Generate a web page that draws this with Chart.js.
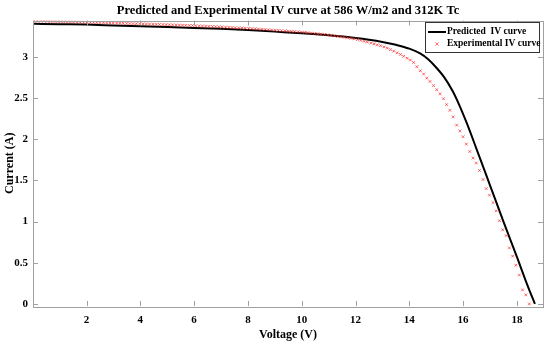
<!DOCTYPE html>
<html lang="en">
<head>
    <meta charset="UTF-8">
    <title>Predicted and Experimental IV curve</title>
    <script src="https://cdn.jsdelivr.net/npm/chart.js@4.4.1/dist/chart.umd.min.js"></script>
    <style>
        body {
            margin: 0;
            background-color: white;
        }
    </style>
</head>
<body>
    <canvas id="ivChart" width="550" height="342"></canvas>

    <script>
// Tick values
const voltageTicks = [2, 4, 6, 8, 10, 12, 14, 16, 18];
const currentTicks = [0, 0.5, 1, 1.5, 2, 2.5, 3];

// Predicted IV curve (solid black line)
const predVoltage = [0.05, 1, 2, 3, 4, 5, 6, 7, 8, 9, 10, 11, 12, 12.5, 13, 13.5, 14, 14.4, 14.7, 15.0, 15.3, 15.6, 15.85, 16.13, 16.5, 17.0, 17.5, 18.0, 18.4, 18.67];
const predCurrent = [3.40, 3.395, 3.39, 3.38, 3.37, 3.36, 3.35, 3.34, 3.325, 3.305, 3.285, 3.26, 3.228, 3.207, 3.18, 3.145, 3.098, 3.04, 2.97, 2.87, 2.75, 2.59, 2.42, 2.20, 1.88, 1.44, 1.0, 0.57, 0.22, 0.0];

// Experimental IV curve (red crosses)
const expVoltage = [
    0.05, 0.17, 0.30, 0.42, 0.54, 0.66, 0.79, 0.91, 1.03, 1.15,
    1.28, 1.40, 1.52, 1.65, 1.77, 1.89, 2.01, 2.14, 2.26, 2.38,
    2.50, 2.63, 2.75, 2.87, 2.99, 3.12, 3.24, 3.36, 3.49, 3.61,
    3.73, 3.85, 3.98, 4.10, 4.22, 4.34, 4.47, 4.59, 4.71, 4.84,
    4.96, 5.08, 5.20, 5.33, 5.45, 5.57, 5.69, 5.82, 5.94, 6.06,
    6.19, 6.31, 6.43, 6.55, 6.68, 6.80, 6.92, 7.04, 7.17, 7.29,
    7.41, 7.53, 7.66, 7.78, 7.90, 8.03, 8.15, 8.27, 8.39, 8.52,
    8.64, 8.76, 8.88, 9.01, 9.13, 9.25, 9.38, 9.50, 9.62, 9.74,
    9.87, 9.99, 10.11, 10.23, 10.36, 10.48, 10.60, 10.72, 10.85, 10.97,
    11.09, 11.22, 11.34, 11.46, 11.58, 11.71, 11.83, 11.95, 12.07, 12.20,
    12.32, 12.44, 12.57, 12.69, 12.81, 12.93, 13.06, 13.18, 13.30, 13.42,
    13.55, 13.67, 13.79, 13.92, 14.04, 14.16, 14.28, 14.41, 14.53, 14.65,
    14.77, 14.90, 15.02, 15.14, 15.27, 15.39, 15.51, 15.63, 15.76, 15.88,
    16.00, 16.12, 16.25, 16.37, 16.49, 16.61, 16.74, 16.86, 16.98, 17.11,
    17.23, 17.35, 17.47, 17.60, 17.72, 17.84, 17.96, 18.09, 18.21, 18.33,
    18.46
];
const expCurrent = [
    3.435, 3.434, 3.432, 3.431, 3.430, 3.429, 3.428, 3.427, 3.426, 3.425,
    3.424, 3.423, 3.422, 3.421, 3.420, 3.418, 3.417, 3.416, 3.415, 3.414,
    3.413, 3.412, 3.411, 3.410, 3.409, 3.408, 3.407, 3.406, 3.404, 3.403,
    3.402, 3.401, 3.400, 3.399, 3.398, 3.396, 3.395, 3.393, 3.392, 3.391,
    3.389, 3.388, 3.387, 3.385, 3.384, 3.383, 3.381, 3.380, 3.379, 3.377,
    3.375, 3.373, 3.371, 3.369, 3.367, 3.365, 3.363, 3.361, 3.359, 3.357,
    3.355, 3.353, 3.351, 3.349, 3.347, 3.344, 3.342, 3.339, 3.336, 3.333,
    3.331, 3.328, 3.325, 3.322, 3.320, 3.317, 3.314, 3.311, 3.308, 3.306,
    3.303, 3.300, 3.296, 3.292, 3.287, 3.283, 3.279, 3.275, 3.270, 3.266,
    3.261, 3.254, 3.248, 3.242, 3.236, 3.230, 3.223, 3.217, 3.209, 3.198,
    3.188, 3.178, 3.166, 3.156, 3.145, 3.134, 3.120, 3.104, 3.087, 3.068,
    3.048, 3.028, 3.005, 2.982, 2.960, 2.930, 2.880, 2.830, 2.790, 2.740,
    2.700, 2.650, 2.600, 2.550, 2.490, 2.420, 2.350, 2.270, 2.170, 2.100,
    2.030, 1.940, 1.850, 1.770, 1.710, 1.620, 1.510, 1.400, 1.320, 1.230,
    1.130, 1.010, 0.900, 0.830, 0.680, 0.580, 0.470, 0.350, 0.170, 0.110,
    0.000
];

const serif = '"Liberation Serif", "Times New Roman", serif';
const axisGrey = '#a0a0a0';

// box around the axes + inward tick marks, MATLAB style
const axesBox = {
    id: 'axesBox',
    afterDatasetsDraw(chart) {
        const { ctx, chartArea: { left, right, top, bottom }, scales: { x, y } } = chart;
        ctx.save();
        ctx.strokeStyle = axisGrey;
        ctx.lineWidth = 1;
        ctx.strokeRect(Math.round(left) + 0.5, Math.round(top) + 0.5,
            Math.round(right - left), Math.round(bottom - top));
        ctx.beginPath();
        voltageTicks.forEach(v => {
            const px = Math.round(x.getPixelForValue(v)) + 0.5;
            ctx.moveTo(px, bottom); ctx.lineTo(px, bottom - 5);
            ctx.moveTo(px, top); ctx.lineTo(px, top + 5);
        });
        currentTicks.forEach(v => {
            const py = Math.round(y.getPixelForValue(v)) + 0.5;
            ctx.moveTo(left, py); ctx.lineTo(left + 5, py);
            ctx.moveTo(right, py); ctx.lineTo(right - 5, py);
        });
        ctx.stroke();
        ctx.restore();
    }
};

// legend box in the top right corner
const boxLegend = {
    id: 'boxLegend',
    afterDraw(chart) {
        const { ctx, chartArea: { right, top } } = chart;
        const ds = chart.data.datasets;
        const bx = right - 118, by = top + 1.5, bw = 114, bh = 30;
        ctx.save();
        ctx.fillStyle = 'white';
        ctx.fillRect(bx, by, bw, bh);
        ctx.strokeStyle = '#333';
        ctx.lineWidth = 1;
        ctx.strokeRect(Math.round(bx) + 0.5, Math.round(by) + 0.5, bw, bh);

        ctx.font = 'bold 9.5px ' + serif;
        ctx.fillStyle = 'black';
        ctx.textBaseline = 'middle';

        // predicted: line sample
        const r1 = by + 10, r2 = by + 22;
        ctx.strokeStyle = ds[0].borderColor;
        ctx.lineWidth = 2;
        ctx.beginPath();
        ctx.moveTo(bx + 3, r1); ctx.lineTo(bx + 21, r1);
        ctx.stroke();
        ctx.fillText(ds[0].label, bx + 22, r1);

        // experimental: cross marker
        const cx = bx + 12, s = 1.6;
        ctx.strokeStyle = ds[1].borderColor;
        ctx.lineWidth = 1;
        ctx.beginPath();
        ctx.moveTo(cx - s, r2 - s); ctx.lineTo(cx + s, r2 + s);
        ctx.moveTo(cx - s, r2 + s); ctx.lineTo(cx + s, r2 - s);
        ctx.stroke();
        ctx.fillText(ds[1].label, bx + 22, r2);
        ctx.restore();
    }
};

new Chart(document.getElementById('ivChart'), {
    type: 'scatter',
    data: {
        datasets: [{
            label: 'Predicted  IV curve',
            data: predVoltage.map((v, i) => ({ x: v, y: predCurrent[i] })),
            showLine: true,
            borderColor: 'black',
            borderWidth: 2,
            pointRadius: 0,
            cubicInterpolationMode: 'monotone',
            order: 2
        }, {
            label: 'Experimental IV curve',
            data: expVoltage.map((v, i) => ({ x: v, y: expCurrent[i] })),
            showLine: false,
            pointStyle: 'crossRot',
            pointRadius: 1.9,
            borderColor: 'rgba(255, 40, 40, 0.7)',
            backgroundColor: 'rgba(255, 40, 40, 0.7)',
            borderWidth: 1,
            order: 1
        }]
    },
    options: {
        responsive: false,
        animation: false,
        devicePixelRatio: 1,
        layout: { padding: { left: 0, right: 7, top: 0, bottom: 0 } },
        plugins: {
            legend: { display: false },
            tooltip: { enabled: false },
            title: {
                display: true,
                fullSize: false,
                text: 'Predicted and Experimental IV curve at 586 W/m2 and 312K Tc',
                color: 'black',
                font: { family: serif, size: 12.5, weight: 'bold' },
                padding: { top: 3, bottom: 2.5 }
            }
        },
        scales: {
            x: {
                type: 'linear',
                min: 0.01,
                max: 18.97,
                grid: { display: false, drawTicks: false },
                border: { display: false },
                afterBuildTicks: s => { s.ticks = voltageTicks.map(v => ({ value: v })); },
                afterFit: s => { s.height = 36; },
                ticks: {
                    color: 'black',
                    padding: 8,
                    maxRotation: 0,
                    font: { family: serif, size: 11, weight: 'bold' },
                    callback: v => String(v)
                },
                title: {
                    display: true,
                    text: 'Voltage (V)',
                    color: 'black',
                    font: { family: serif, size: 12, weight: 'bold' },
                    padding: { top: 0, bottom: 0 }
                }
            },
            y: {
                type: 'linear',
                min: -0.025,
                max: 3.44,
                grid: { display: false, drawTicks: false },
                border: { display: false },
                afterBuildTicks: s => { s.ticks = currentTicks.map(v => ({ value: v })); },
                afterFit: s => { s.width = 33; },
                ticks: {
                    color: 'black',
                    padding: 5,
                    font: { family: serif, size: 11, weight: 'bold' },
                    callback: v => String(v)
                },
                title: {
                    display: true,
                    text: 'Current (A)',
                    color: 'black',
                    font: { family: serif, size: 12, weight: 'bold' },
                    padding: { top: 3, bottom: 0 }
                }
            }
        }
    },
    plugins: [axesBox, boxLegend]
});
    </script>
</body>
</html>
